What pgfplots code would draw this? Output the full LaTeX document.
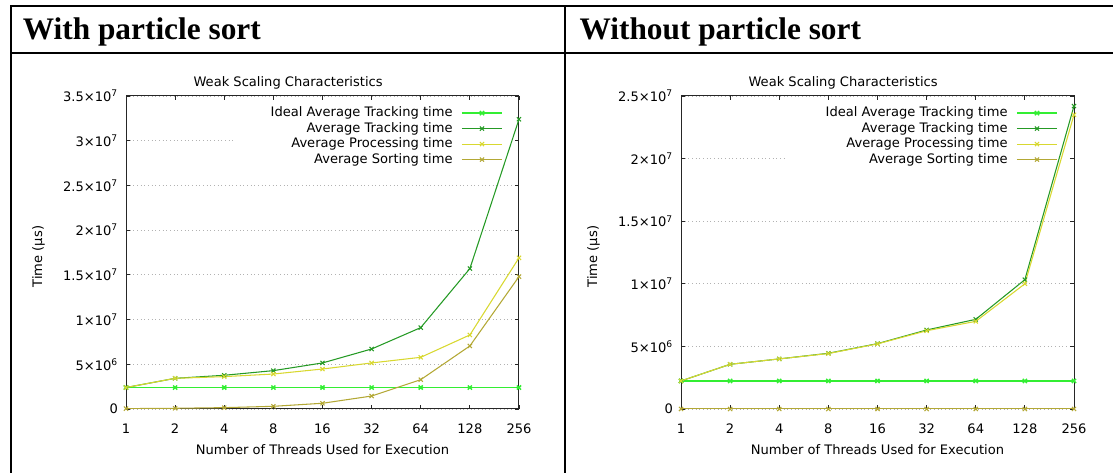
\documentclass[border=0pt]{standalone}
\usepackage{pgfplots}
\pgfplotsset{compat=1.18}
\usepackage{fontspec}
\newfontfamily\gp{DejaVu Sans}
\newfontfamily\hdr{Liberation Serif}
\definecolor{cIdeal}{HTML}{33EE33}
\definecolor{cTrack}{HTML}{259A25}
\definecolor{cProc}{HTML}{D8D830}
\definecolor{cSort}{HTML}{B3A835}
\newcommand\gpf{\gp\fontsize{9.8}{11.5}\selectfont}
\pgfplotsset{
  gpaxis/.style={
    scale only axis, width=294.75pt, height=234.75pt,
    set layers,
    xmin=0, xmax=8, xtick={0,...,8},
    xticklabels={1,2,4,8,16,32,64,128,256},
    scaled y ticks=false, ymin=0,
    axis line style={black!85, line width=0.75pt},
    major tick length=3pt,
    tick style={black!85, line width=0.6pt},
    ymajorgrids,
    grid style={gray!60, line width=0.6pt, dash pattern=on 0.75pt off 2pt},
    font=\gpf,
    every tick label/.append style={font=\gpf},
    xticklabel style={yshift=-7.5pt},
    yticklabel style={xshift=-2.5pt},
    title={Weak Scaling Characteristics},
    title style={at={(axis description cs:0.5,1)}, anchor=base, yshift=1.3pt, xshift=-25.8pt, inner sep=0pt},
    xlabel={Number of Threads Used for Execution},
    xlabel style={at={(axis description cs:0.5,0)}, anchor=base, yshift=-34.3pt, inner sep=0pt},
    ylabel={Time (µs)},
    ylabel style={at={(axis description cs:-0.2226,0.487)}, anchor=center, inner sep=0pt},
    legend cell align=right, legend plot pos=right,
    legend style={at={(axis description cs:1,1)}, anchor=north east, xshift=-12pt, yshift=-7.8pt,
      draw=none, fill=none, inner sep=0pt, row sep=1.9pt,
      nodes={inner sep=0pt, text height=7.5pt, text depth=2.2pt, font=\gpf},
      /tikz/every odd column/.append style={column sep=6.5pt}},
    legend image code/.code={\draw[mark repeat=2,mark phase=2] plot coordinates {(0pt,0pt)(15pt,0pt)(30pt,0pt)};},
    every axis plot/.append style={line width=0.8pt, mark=x, mark size=2.2pt, mark options={solid}},
  }
}
\begin{document}
\begin{tikzpicture}
% frame
\draw[line width=1.6pt] (8.4pt,0) -- (8.4pt,350.9pt);
\draw[line width=1.6pt] (7.6pt,350.1pt) -- (834.75pt,350.1pt);
\draw[line width=1.6pt] (8.4pt,315.2pt) -- (834.75pt,315.2pt);
\draw[line width=1.6pt] (423.75pt,0) -- (423.75pt,350.1pt);
\node[anchor=base west, inner sep=0pt, font=\hdr\bfseries\fontsize{23.5}{28}\selectfont] at (17pt,325.3pt) {With particle sort};
\node[anchor=base west, inner sep=0pt, font=\hdr\bfseries\fontsize{23.5}{28}\selectfont] at (434.5pt,325.3pt) {Without particle sort};

\begin{axis}[gpaxis, at={(94.5pt,48pt)}, anchor=south west,
  ymax=3.5e7, ytick={0,5e6,1e7,1.5e7,2e7,2.5e7,3e7,3.5e7},
  yticklabels={0,5×10\textsuperscript{6},1×10\textsuperscript{7},1.5×10\textsuperscript{7},2×10\textsuperscript{7},2.5×10\textsuperscript{7},3×10\textsuperscript{7},3.5×10\textsuperscript{7}}]
\addplot[draw=none, fill=white, mark=none, forget plot, on layer=axis ticks] coordinates {(2.18,2.72e7)(7.9,2.72e7)(7.9,3.43e7)(2.18,3.43e7)(2.18,2.72e7)};
\addplot[color=cIdeal, line width=1.1pt] coordinates {(0,2.4e6)(1,2.4e6)(2,2.4e6)(3,2.4e6)(4,2.4e6)(5,2.4e6)(6,2.4e6)(7,2.4e6)(8,2.4e6)};
\addlegendentry{Ideal Average Tracking time}
\addplot[color=cTrack] coordinates {(0,2.40e6)(1,3.43e6)(2,3.77e6)(3,4.29e6)(4,5.15e6)(5,6.71e6)(6,9.10e6)(7,15.7e6)(8,32.4e6)};
\addlegendentry{Average Tracking time}
\addplot[color=cProc] coordinates {(0,2.40e6)(1,3.43e6)(2,3.62e6)(3,3.91e6)(4,4.47e6)(5,5.15e6)(6,5.78e6)(7,8.28e6)(8,16.9e6)};
\addlegendentry{Average Processing time}
\addplot[color=cSort] coordinates {(0,0.04e6)(1,0.08e6)(2,0.15e6)(3,0.30e6)(4,0.64e6)(5,1.45e6)(6,3.28e6)(7,7.05e6)(8,14.8e6)};
\addlegendentry{Average Sorting time}
\end{axis}

\begin{axis}[gpaxis, at={(510.75pt,48pt)}, anchor=south west,
  ymax=2.5e7, ytick={0,5e6,1e7,1.5e7,2e7,2.5e7},
  yticklabels={0,5×10\textsuperscript{6},1×10\textsuperscript{7},1.5×10\textsuperscript{7},2×10\textsuperscript{7},2.5×10\textsuperscript{7}}]
\addplot[draw=none, fill=white, mark=none, forget plot, on layer=axis ticks] coordinates {(2.16,1.9e7)(7.9,1.9e7)(7.9,2.45e7)(2.16,2.45e7)(2.16,1.9e7)};
\addplot[color=cIdeal, line width=1.1pt] coordinates {(0,2.24e6)(1,2.24e6)(2,2.24e6)(3,2.24e6)(4,2.24e6)(5,2.24e6)(6,2.24e6)(7,2.24e6)(8,2.24e6)};
\addlegendentry{Ideal Average Tracking time}
\addplot[color=cTrack] coordinates {(0,2.24e6)(1,3.57e6)(2,4.0e6)(3,4.45e6)(4,5.22e6)(5,6.31e6)(6,7.16e6)(7,10.33e6)(8,24.2e6)};
\addlegendentry{Average Tracking time}
\addplot[color=cProc] coordinates {(0,2.24e6)(1,3.57e6)(2,4.0e6)(3,4.43e6)(4,5.20e6)(5,6.25e6)(6,7.0e6)(7,10.0e6)(8,23.5e6)};
\addlegendentry{Average Processing time}
\addplot[color=cSort] coordinates {(0,0)(1,0)(2,0)(3,0)(4,0)(5,0)(6,0)(7,0)(8,0)};
\addlegendentry{Average Sorting time}
\end{axis}
\pgfresetboundingbox
\useasboundingbox (0,0) rectangle (834.75pt,354.75pt);
\end{tikzpicture}
\end{document}
